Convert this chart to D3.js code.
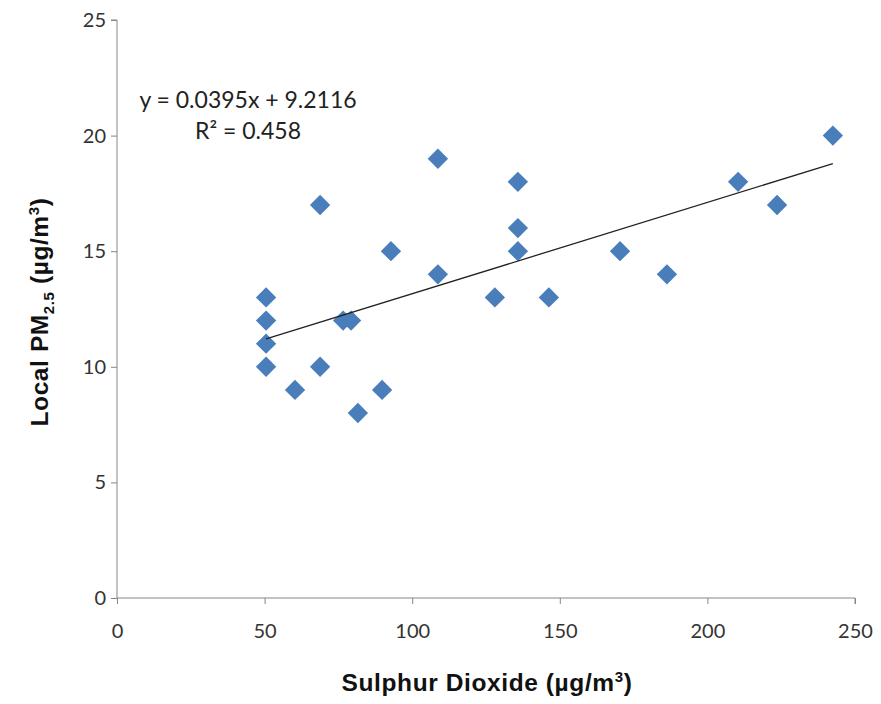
<!DOCTYPE html>
<html><head><meta charset="utf-8">
<script src="https://cdn.jsdelivr.net/npm/d3@7"></script>
<style>body{margin:0;background:#fff}</style>
</head><body>
<svg id="c" width="881" height="704"></svg>
<script>
const so2 = [50.5, 50.5, 50.5, 50.5, 60.3, 68.8, 68.8, 76.6, 79.3, 81.6, 89.8, 92.8, 108.7, 108.7, 128, 135.8, 135.8, 135.8, 146.3, 170.4, 186.3, 210.4, 223.6, 242.5];
const pm25 = [13, 12, 11, 10, 9, 17, 10, 12, 12, 8, 9, 15, 19, 14, 13, 18, 16, 15, 13, 15, 14, 18, 17, 20];
const xTicks = [0, 50, 100, 150, 200, 250];
const yTicks = [0, 5, 10, 15, 20, 25];
const slope = 0.0395, intercept = 9.2116;
const eqText = "y = 0.0395x + 9.2116";
const r2Text = "R² = 0.458";

const svg = d3.select("#c");
const x = d3.scaleLinear().domain([0, 250]).range([117, 855]);
const y = d3.scaleLinear().domain([0, 25]).range([598, 20]);
const axisColor = "#878787";
const tickFont = "Lato, 'Open Sans', sans-serif";

// Y axis
const ya = svg.append("g").attr("transform", `translate(${x(0)},0)`)
  .call(d3.axisLeft(y).tickValues(yTicks).tickSize(6).tickPadding(5).tickFormat(d3.format("d")));
ya.select(".domain").attr("stroke", axisColor).attr("d", `M-6,${y(25)}H0V${y(0)}`);
ya.selectAll(".tick line").attr("stroke", axisColor);
ya.selectAll(".tick text").attr("font-family", tickFont).attr("font-size", 20).attr("fill", "#333");

// X axis
const xa = svg.append("g").attr("transform", `translate(0,${y(0)})`)
  .call(d3.axisBottom(x).tickValues(xTicks).tickSize(6).tickPadding(20).tickFormat(d3.format("d")));
xa.select(".domain").attr("stroke", axisColor).attr("d", `M${x(0)},0H${x(250)}V6`);
xa.selectAll(".tick line").attr("stroke", axisColor);
xa.selectAll(".tick text").attr("font-family", tickFont).attr("font-size", 20).attr("fill", "#333");

// Points
const pts = so2.map((v, i) => ({x: v, y: pm25[i]}));
const diamond = d3.symbol().type(d3.symbolDiamond2).size(264);
svg.append("g").selectAll("path").data(pts).join("path")
  .attr("d", diamond)
  .attr("transform", d => `translate(${x(d.x)},${y(d.y)})`)
  .attr("fill", "#4a7ebb");

// Trendline
const xmin = d3.min(so2), xmax = d3.max(so2);
svg.append("line")
  .attr("x1", x(xmin)).attr("y1", y(slope * xmin + intercept))
  .attr("x2", x(xmax)).attr("y2", y(slope * xmax + intercept))
  .attr("stroke", "#222").attr("stroke-width", 1.3);

// Equation
svg.append("text").attr("x", 248).attr("y", 108).attr("text-anchor", "middle")
  .attr("font-family", tickFont).attr("font-size", 23).attr("fill", "#222").text(eqText);
svg.append("text").attr("x", 248).attr("y", 139).attr("text-anchor", "middle")
  .attr("font-family", tickFont).attr("font-size", 23).attr("fill", "#222").text(r2Text);

// Axis titles
const titleFont = "'Liberation Sans', Arial, sans-serif";
const xt = svg.append("text").attr("x", 487).attr("y", 691).attr("text-anchor", "middle")
  .attr("font-family", titleFont).attr("font-weight", "bold").attr("font-size", 24.5)
  .attr("letter-spacing", 0.6).attr("fill", "#111");
xt.append("tspan").text("Sulphur Dioxide (µg/m");
xt.append("tspan").attr("font-size", 15).attr("dy", -9).text("3");
xt.append("tspan").attr("dy", 9).text(")");

const yt = svg.append("text").attr("transform", "translate(48,312) rotate(-90)").attr("text-anchor", "middle")
  .attr("font-family", titleFont).attr("font-weight", "bold").attr("font-size", 24.5)
  .attr("letter-spacing", 0.6).attr("fill", "#111");
yt.append("tspan").text("Local PM");
yt.append("tspan").attr("font-size", 15).attr("dy", 6).text("2.5");
yt.append("tspan").attr("dy", -6).text(" (µg/m");
yt.append("tspan").attr("font-size", 15).attr("dy", -9).text("3");
yt.append("tspan").attr("dy", 9).text(")");
</script>
</body></html>
